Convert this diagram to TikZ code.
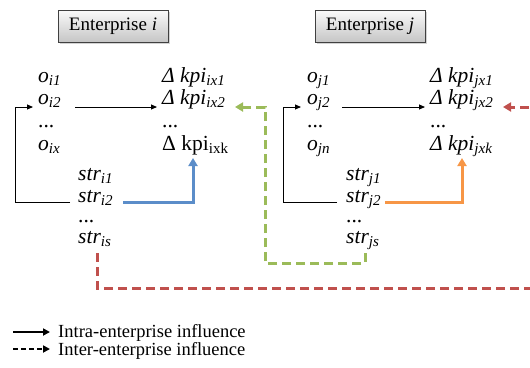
\documentclass[tikz,border=0pt]{standalone}
\usepackage{fontspec}
\setmainfont{Liberation Serif}
\usetikzlibrary{arrows.meta,shadows,calc}
\definecolor{cblue}{HTML}{5B8DC9}
\definecolor{corange}{HTML}{F79646}
\definecolor{cgreen}{HTML}{9BBB59}
\definecolor{cred}{HTML}{C0504D}
\newcommand\lb[2]{\textit{#1}\textsubscript{\textit{#2}}}
\begin{document}
\begin{tikzpicture}[x=1pt,y=-1pt,
  every node/.style={inner sep=0pt},
  lbl/.style={anchor=base west,font=\fontsize{21.5}{24}\selectfont},
  entbox/.style={draw=black!75,line width=0.8pt,top color=gray!4,bottom color=gray!45,
    minimum width=110pt,minimum height=32pt,font=\fontsize{19}{22}\selectfont,
    drop shadow={shadow xshift=1.5pt,shadow yshift=-1.5pt,opacity=0.35}},
  blk/.style={draw=black,line width=0.9pt,-{Triangle[length=6pt,width=5pt]}},
  colarrow/.style={line width=3pt,-{Triangle[length=8pt,width=9pt]}},
  coldash/.style={line width=3pt,dash pattern=on 9pt off 5pt,-{Triangle[length=8pt,width=9pt]}},
  legtext/.style={anchor=base west,font=\fontsize{18.5}{20}\selectfont}]
\useasboundingbox (0,0) rectangle (530,367);
\clip (0,0) rectangle (530,367);

% Enterprise boxes
\node[entbox] (ei) at (113,26) {Enterprise \textit{i}};
\node[entbox] (ej) at (370,26) {Enterprise \textit{j}};

% Enterprise i labels
\node[lbl] (oi1) at (38,82) {\lb{o}{i1}};
\node[lbl] (oi2) at (38,104) {\lb{o}{i2}};
\node[lbl] (oid) at (38,127) {...};
\node[lbl] (oix) at (38,150) {\lb{o}{ix}};
\node[lbl] (ki1) at (162,82) {\lb{Δ kpi}{ix1}};
\node[lbl] (ki2) at (162,104) {\lb{Δ kpi}{ix2}};
\node[lbl] (kid) at (162,127) {...};
\node[lbl] (kik) at (162,150) {Δ kpi\textsubscript{ixk}};
\node[lbl] (si1) at (78,180) {\lb{str}{i1}};
\node[lbl] (si2) at (78,202) {\lb{str}{i2}};
\node[lbl] (sid) at (78,222) {...};
\node[lbl] (sis) at (78,243) {\lb{str}{is}};

% Enterprise j labels
\node[lbl] (oj1) at (307,82) {\lb{o}{j1}};
\node[lbl] (oj2) at (307,104) {\lb{o}{j2}};
\node[lbl] (ojd) at (307,127) {...};
\node[lbl] (ojn) at (307,150) {\lb{o}{jn}};
\node[lbl] (kj1) at (430,82) {\lb{Δ kpi}{jx1}};
\node[lbl] (kj2) at (430,104) {\lb{Δ kpi}{jx2}};
\node[lbl] (kjd) at (430,127) {...};
\node[lbl] (kjk) at (430,150) {\lb{Δ kpi}{jxk}};
\node[lbl] (sj1) at (346,180) {\lb{str}{j1}};
\node[lbl] (sj2) at (346,202) {\lb{str}{j2}};
\node[lbl] (sjd) at (346,222) {...};
\node[lbl] (sjs) at (346,243) {\lb{str}{js}};

% intra-enterprise arrows, enterprise i
\coordinate (ai1) at (75,107);
\coordinate (ai2) at (157,107);
\draw[blk] (ai1) -- (ai2);
\coordinate (fi1) at (70,202);
\coordinate (fi2) at (15,107);
\coordinate (fi3) at (33,107);
\draw[blk] (fi1) -| (fi2) -- (fi3);
\coordinate (bi1) at (123,202);
\coordinate (bi2) at (193,158);
\draw[colarrow,cblue] (bi1) -| (bi2);

% intra-enterprise arrows, enterprise j
\coordinate (aj1) at (342,107);
\coordinate (aj2) at (425,107);
\draw[blk] (aj1) -- (aj2);
\coordinate (fj1) at (337,202);
\coordinate (fj2) at (283,107);
\coordinate (fj3) at (301,107);
\draw[blk] (fj1) -| (fj2) -- (fj3);
\coordinate (bj1) at (385,202);
\coordinate (bj2) at (462,158);
\draw[colarrow,corange] (bj1) -| (bj2);

% inter-enterprise arrows
\coordinate (g1) at (365,253);
\coordinate (g2) at (365,263);
\coordinate (g3) at (265,107);
\coordinate (g4) at (235,107);
\draw[coldash,cgreen] (g1) -- (g2) -| (g3) -- (g4);
\coordinate (r1) at (97,253);
\coordinate (r2) at (97,288);
\coordinate (r3) at (548,107);
\coordinate (r4) at (503,107);
\draw[coldash,cred] (r1) -- (r2) -| (r3) -- (r4);

% legend
\coordinate (l1a) at (13,332);
\coordinate (l1b) at (50,332);
\draw[line width=1.8pt,-{Triangle[length=7pt,width=7pt]}] (l1a) -- (l1b);
\node[legtext] (lt1) at (58,337) {Intra-enterprise influence};
\coordinate (l2a) at (13,349);
\coordinate (l2b) at (50,349);
\draw[line width=1.8pt,dash pattern=on 5pt off 3pt,-{Triangle[length=7pt,width=7pt]}] (l2a) -- (l2b);
\node[legtext] (lt2) at (58,355) {Inter-enterprise influence};
\end{tikzpicture}
\end{document}
